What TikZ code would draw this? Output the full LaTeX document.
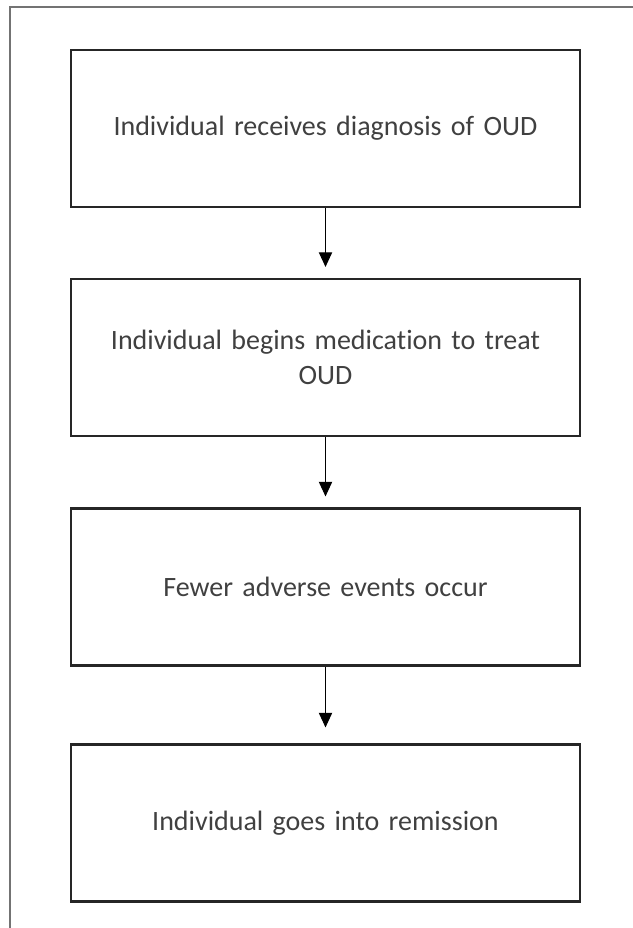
\documentclass[tikz,border=0pt]{standalone}
\usepackage{fontspec}
\setmainfont{Carlito}[Ligatures=NoCommon]
\usetikzlibrary{arrows.meta}

\begin{document}
\begin{tikzpicture}[x=0.75pt, y=-0.75pt,
    stage/.style ={rectangle, draw=black!85, line width=1.6pt, minimum width=381.75pt, minimum height=117.75pt,
                   text width=345pt, align=center, text=black!75, font=\fontsize{21}{26}\selectfont},
    step arrow/.style ={line width=0.8pt, -{Triangle[width=10pt,length=11pt]}}]
   \useasboundingbox (0,0) rectangle (632,928);
   \draw[black!55, line width=1.5pt] (640,7) -- (10,7) -- (10,940);
   \node[stage] (D) at (325.5,128.5) {Individual receives diagnosis of OUD};
   \node[stage] (M) at (325.5,357.5) {Individual begins medication to treat\\OUD};
   \node[stage] (F) at (325.5,587) {Fewer adverse events occur};
   \node[stage] (R) at (325.5,823) {Individual goes into remission};
   \draw[step arrow, shorten >=8.25pt] (D) to (M);
   \draw[step arrow, shorten >=8.25pt] (M) to (F);
   \draw[step arrow, shorten >=12pt] (F) to (R);
\end{tikzpicture}
\end{document}
